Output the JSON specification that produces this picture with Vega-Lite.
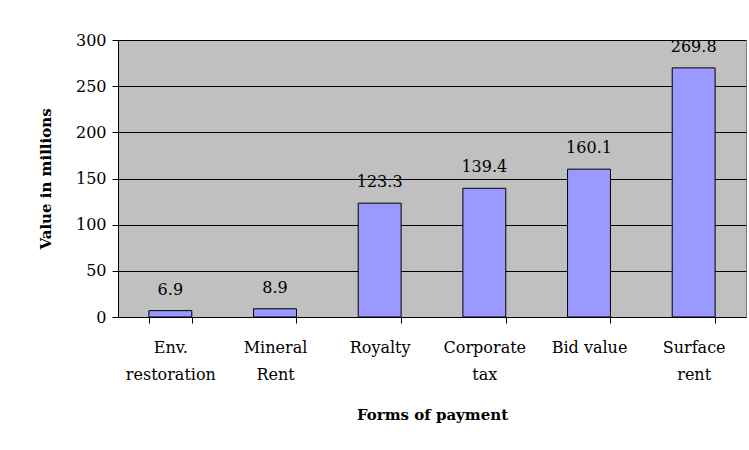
{
  "$schema": "https://vega.github.io/schema/vega-lite/v6.json",
  "width": 628,
  "height": 277,
  "autosize": "none",
  "padding": {"left": 118, "top": 40, "right": 3, "bottom": 133},
  "background": "white",
  "config": {
    "font": "DejaVu Serif",
    "view": {"fill": "#c0c0c0", "stroke": "#808080", "strokeWidth": 1}
  },
  "data": {
    "values": [
      {"payment": "Env.|restoration", "value": 6.9},
      {"payment": "Mineral|Rent", "value": 8.9},
      {"payment": "Royalty", "value": 123.3},
      {"payment": "Corporate|tax", "value": 139.4},
      {"payment": "Bid value", "value": 160.1},
      {"payment": "Surface|rent", "value": 269.8}
    ]
  },
  "encoding": {
    "x": {
      "field": "payment",
      "type": "nominal",
      "sort": null,
      "scale": {"paddingInner": 0.59, "paddingOuter": 0.295},
      "axis": {
        "title": "Forms of payment",
        "titleFont": "DejaVu Serif",
        "titleFontSize": 15,
        "titleFontWeight": "bold",
        "titleColor": "black",
        "titlePadding": 25,
        "labelExpr": "isValid(datum.value) ? split(datum.value, '|') : ''",
        "labelAngle": 0,
        "labelFontSize": 16,
        "labelColor": "black",
        "labelPadding": 16,
        "labelLineHeight": 27,
        "tickBand": "extent",
        "tickSize": 6,
        "tickColor": "black",
        "domainColor": "black",
        "labelFont": "DejaVu Serif"
      }
    },
    "y": {
      "field": "value",
      "type": "quantitative",
      "scale": {"domain": [0, 300], "nice": false},
      "axis": {
        "title": "Value in millions",
        "titleFont": "DejaVu Serif",
        "titleFontSize": 15,
        "titleFontWeight": "bold",
        "titleColor": "black",
        "titlePadding": 22,
        "values": [0, 50, 100, 150, 200, 250, 300],
        "labelFontSize": 16,
        "labelColor": "black",
        "labelPadding": 6,
        "labelFont": "DejaVu Serif",
        "tickSize": 6,
        "tickColor": "black",
        "domainColor": "black",
        "grid": true,
        "gridColor": "black",
        "gridOpacity": 1
      }
    }
  },
  "layer": [
    {
      "mark": {"type": "bar", "color": "#9999ff", "stroke": "black", "strokeWidth": 1}
    },
    {
      "mark": {"type": "text", "baseline": "alphabetic", "dy": -16, "fontSize": 16, "color": "black", "font": "DejaVu Serif"},
      "encoding": {"text": {"field": "value", "type": "quantitative", "format": ".1f"}}
    }
  ]
}
